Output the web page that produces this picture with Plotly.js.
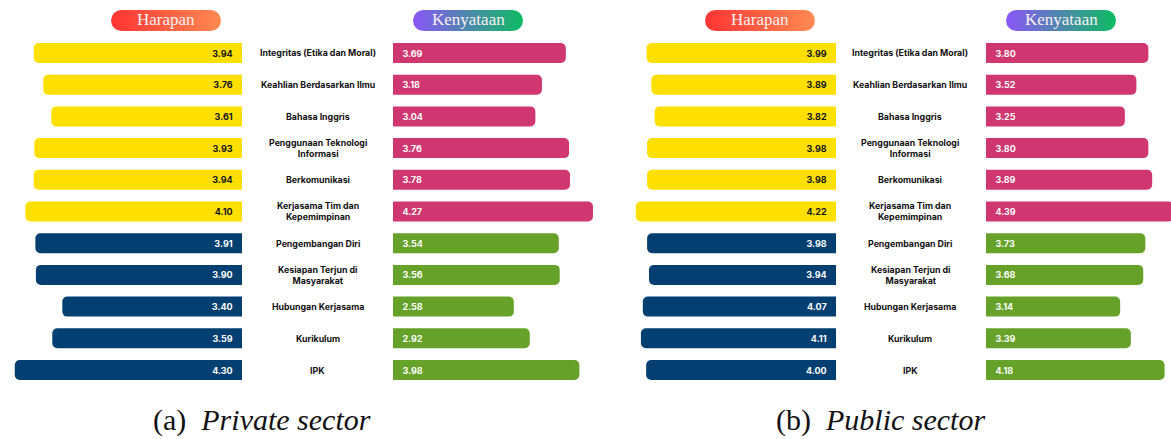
<!DOCTYPE html>
<html>
<head>
<meta charset="utf-8">
<script src="https://cdn.plot.ly/plotly-3.0.1.min.js"></script>
<style>
  html, body { margin: 0; padding: 0; background: #ffffff; }
  #chart { width: 1171px; height: 439px; }
</style>
</head>
<body>
<div id="chart"></div>
<script>
// ---------------- data ----------------
const categories = [
  'Integritas (Etika dan Moral)',
  'Keahlian Berdasarkan Ilmu',
  'Bahasa Inggris',
  'Penggunaan Teknologi Informasi',
  'Berkomunikasi',
  'Kerjasama Tim dan Kepemimpinan',
  'Pengembangan Diri',
  'Kesiapan Terjun di Masyarakat',
  'Hubungan Kerjasama',
  'Kurikulum',
  'IPK'
];
const categoryLabels = [
  'Integritas (Etika dan Moral)',
  'Keahlian Berdasarkan Ilmu',
  'Bahasa Inggris',
  'Penggunaan Teknologi<br>Informasi',
  'Berkomunikasi',
  'Kerjasama Tim dan<br>Kepemimpinan',
  'Pengembangan Diri',
  'Kesiapan Terjun di<br>Masyarakat',
  'Hubungan Kerjasama',
  'Kurikulum',
  'IPK'
];
const privateHarapan   = [3.94, 3.76, 3.61, 3.93, 3.94, 4.10, 3.91, 3.90, 3.40, 3.59, 4.30];
const privateKenyataan = [3.69, 3.18, 3.04, 3.76, 3.78, 4.27, 3.54, 3.56, 2.58, 2.92, 3.98];
const publicHarapan    = [3.99, 3.89, 3.82, 3.98, 3.98, 4.22, 3.98, 3.94, 4.07, 4.11, 4.00];
const publicKenyataan  = [3.80, 3.52, 3.25, 3.80, 3.89, 4.39, 3.73, 3.68, 3.14, 3.39, 4.18];
const headerHarapan = 'Harapan';
const headerKenyataan = 'Kenyataan';
const captionA = '(a)\u00a0\u00a0<i>Private sector</i>';
const captionB = '(b)\u00a0\u00a0<i>Public sector</i>';
const firstGroupSize = 6;

// ---------------- styling ----------------
const W = 1171, H = 439;
const px = v => v / W;
const py = v => 1 - v / H;

const YELLOW = '#FEE000', NAVY = '#033F70', PINK = '#D0366F', GREEN = '#66A22A';
const NB = '\u00a0\u00a0\u00a0';

function colorsFor(arr, c1, c2) { return arr.map((_, i) => i < firstGroupSize ? c1 : c2); }

const valueFont = (colors) => ({ family: 'Inter, Roboto, sans-serif', size: 9, weight: 700, color: colors });

function barTrace(vals, xaxis, left, c1, c2, t1, t2) {
  return {
    type: 'bar',
    orientation: 'h',
    y: categories,
    x: vals,
    xaxis: xaxis,
    yaxis: 'y',
    marker: { color: colorsFor(vals, c1, c2), cornerradius: 5, line: { width: 0 } },
    texttemplate: left ? '%{x:.2f}' + NB : NB + '%{x:.2f}',
    textposition: 'inside',
    insidetextanchor: 'start',
    textangle: 0,
    constraintext: 'none',
    insidetextfont: valueFont(colorsFor(vals, t1, t2)),
    hoverinfo: 'skip',
    showlegend: false
  };
}

const traces = [
  barTrace(privateHarapan, 'x', true, YELLOW, NAVY, '#111111', '#ffffff'),
  barTrace(privateKenyataan, 'x2', false, PINK, GREEN, '#ffffff', '#ffffff'),
  barTrace(publicHarapan, 'x3', true, YELLOW, NAVY, '#111111', '#ffffff'),
  barTrace(publicKenyataan, 'x4', false, PINK, GREEN, '#ffffff', '#ffffff')
];

const hiddenX = (domain, range) => ({
  domain: domain, range: range, visible: false, showgrid: false, zeroline: false,
  fixedrange: true, anchor: 'y'
});

// pill images
function pillSVG(c1, c2) {
  const svg = `<svg xmlns="http://www.w3.org/2000/svg" width="110" height="21" viewBox="0 0 110 21">` +
    `<defs><linearGradient id="g" x1="0" y1="0" x2="1" y2="0">` +
    `<stop offset="0" stop-color="${c1}"/><stop offset="1" stop-color="${c2}"/></linearGradient></defs>` +
    `<rect x="0" y="0" width="110" height="21" rx="10.5" ry="10.5" fill="url(#g)"/></svg>`;
  return 'data:image/svg+xml;charset=utf-8,' + encodeURIComponent(svg);
}
const harapanPill = pillSVG('#FF3434', '#FF8A52');
const kenyataanPill = pillSVG('#8B55F7', '#0DBC62');

const pills = [
  { cx: 166, src: harapanPill },
  { cx: 468, src: kenyataanPill },
  { cx: 760, src: harapanPill },
  { cx: 1061, src: kenyataanPill }
];
const images = pills.map(p => ({
  source: p.src, xref: 'paper', yref: 'paper',
  x: px(p.cx), y: py(20.5), sizex: px(110), sizey: 21 / H,
  xanchor: 'center', yanchor: 'middle', sizing: 'stretch', layer: 'below'
}));

const annotations = [];
const headers = [headerHarapan, headerKenyataan, headerHarapan, headerKenyataan];
pills.forEach((p, i) => annotations.push({
  xref: 'paper', yref: 'paper', x: px(p.cx), y: py(20), text: headers[i],
  showarrow: false, xanchor: 'center', yanchor: 'middle',
  font: { family: 'Liberation Serif, DejaVu Serif, serif', size: 17, color: '#fbeff0' }
}));

[317.5, 910].forEach(cx => {
  categories.forEach((c, i) => annotations.push({
    xref: 'paper', yref: 'y', x: px(cx), y: c, text: categoryLabels[i],
    showarrow: false, xanchor: 'center', yanchor: 'middle',
    font: { family: 'Inter, Roboto, sans-serif', size: 8.8, weight: 700, color: '#111111' }
  }));
});

annotations.push({
  xref: 'paper', yref: 'paper', x: px(262), y: py(420), text: captionA,
  showarrow: false, xanchor: 'center', yanchor: 'middle',
  font: { family: 'Liberation Serif, Times New Roman, serif', size: 30, color: '#111111' }
});
annotations.push({
  xref: 'paper', yref: 'paper', x: px(880), y: py(420), text: captionB,
  showarrow: false, xanchor: 'center', yanchor: 'middle',
  font: { family: 'Liberation Serif, Times New Roman, serif', size: 30, color: '#111111' }
});

const layout = {
  width: W, height: H,
  margin: { l: 0, r: 0, t: 0, b: 0, pad: 0 },
  paper_bgcolor: '#ffffff', plot_bgcolor: 'rgba(0,0,0,0)',
  barmode: 'overlay',
  bargap: 0.37,
  showlegend: false,
  xaxis:  hiddenX([px(10),  px(242)],  [4.39, 0]),
  xaxis2: hiddenX([px(393), px(600)],  [0, 4.42]),
  xaxis3: hiddenX([px(630), px(836)],  [4.34, 0]),
  xaxis4: hiddenX([px(986), px(1171)], [0, 4.33]),
  yaxis: {
    domain: [1 - 385.85 / H, 1 - 37.15 / H],
    type: 'category', autorange: 'reversed', visible: false,
    showgrid: false, zeroline: false, fixedrange: true, anchor: 'x'
  },
  images: images,
  annotations: annotations
};

Plotly.newPlot('chart', traces, layout, { staticPlot: true, displayModeBar: false });
</script>
</body>
</html>
